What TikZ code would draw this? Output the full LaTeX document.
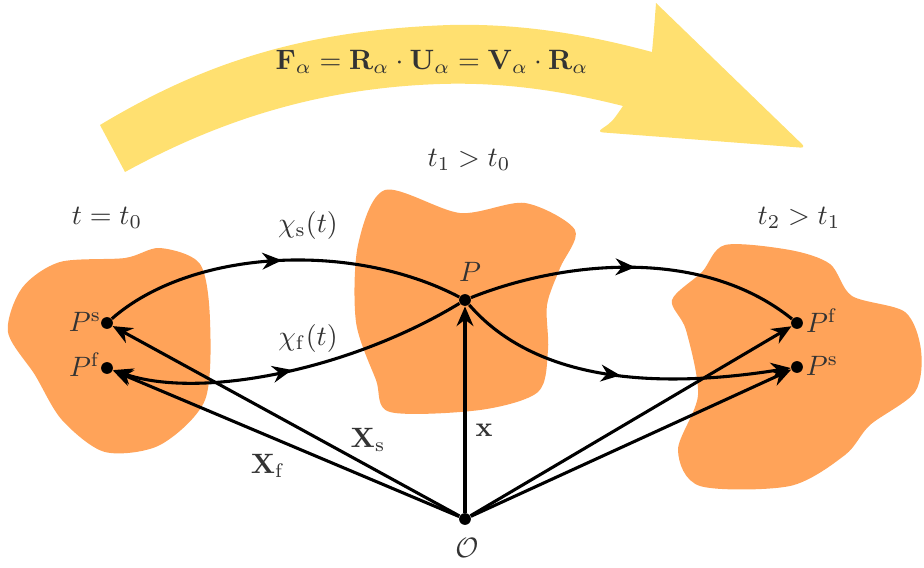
\documentclass[tikz,border=0pt]{standalone}
\usepackage{amsmath}
\usepackage{amssymb}
\usetikzlibrary{arrows.meta, decorations.markings}
\definecolor{myorange}{RGB}{255,163,89}
\definecolor{myyellow}{RGB}{255,224,112}
\definecolor{mytext}{RGB}{51,51,51}
\tikzset{
  dot/.style={circle,fill=black,inner sep=0pt,minimum size=4.2pt},
  connect/.style={line width=1.1pt},
  connect arrow/.style={connect,-{Stealth[length=7pt,width=6pt]}},
  mid arrow/.style={connect,postaction={decorate},
    decoration={markings,mark=at position 0.5 with {\arrow{Stealth[length=7pt,width=6pt]}}}},
  lbl/.style={text=mytext,inner sep=1pt}
}

\begin{document}
\begin{tikzpicture}[x=0.357pt, y=-0.357pt]
  \useasboundingbox (0,0) rectangle (924,567);

  % Deformation arrow
  \fill[myyellow] (100,125) .. controls (200,65) and (300,30) .. (450,25)
    .. controls (530,23) and (600,38) .. (652,52) .. controls (654,30) .. (656,3)
    [rounded corners=2pt] -- (806,148) -- (597,132)
    [sharp corners] .. controls (612,122) .. (623,106)
    .. controls (560,90) and (500,82) .. (440,84) .. controls (320,88) and (220,120) .. (125,172) -- cycle;
  \node[lbl] (F) at (432,62) {$\mathbf{F}_\alpha = \mathbf{R}_\alpha \cdot \mathbf{U}_\alpha = \mathbf{V}_\alpha \cdot \mathbf{R}_\alpha$};

  % Bodies
  \fill[myorange] plot[smooth cycle] coordinates {(60,262) (125,258) (160,248) (200,264) (210,320)
    (205,400) (160,445) (105,452) (62,420) (35,375) (8,332) (22,288)};
  \fill[myorange] plot[smooth cycle] coordinates {(385,190) (460,213) (525,203) (575,230) (560,268)
    (547,305) (548,350) (538,392) (480,410) (390,412) (376,380) (356,322) (358,245)};
  \fill[myorange] plot[smooth cycle] coordinates {(725,245) (790,250) (830,264) (852,296) (905,312)
    (921,350) (915,392) (870,425) (845,455) (790,486) (700,486) (678,450) (698,395) (686,330)
    (672,300) (702,272)};

  % Times
  \node[lbl] (t0) at (107,218) {$t = t_0$};
  \node[lbl] (t1) at (469,160) {$t_1 > t_0$};
  \node[lbl] (t2) at (799,218) {$t_2 > t_1$};

  % Points
  \node[dot] (Ps0) at (107,323) {};
  \node[dot] (Pf0) at (107,368) {};
  \node[dot] (P) at (465,300) {};
  \node[dot] (Pf2) at (797,323) {};
  \node[dot] (Ps2) at (797,367) {};
  \node[dot] (O) at (465,519) {};

  % Trajectories
  \draw[mid arrow] (Ps0) .. controls (190,250) and (350,240) .. (P);
  \draw[mid arrow, {Stealth[length=7pt,width=6pt]}-] (Pf0) .. controls (200,400) and (350,370) .. (P);
  \draw[mid arrow] (P) .. controls (560,262) and (700,245) .. (Pf2);
  \draw[mid arrow, -{Stealth[length=7pt,width=6pt]}] (P) .. controls (530,375) and (640,392) .. (Ps2);

  % Position vectors
  \draw[connect arrow] (O) -- (Ps0);
  \draw[connect arrow] (O) -- (Pf0);
  \draw[connect arrow] (O) -- (P);
  \draw[connect arrow] (O) -- (Pf2);
  \draw[connect arrow] (O) -- (Ps2);

  % Labels
  \node[lbl] (lPs0) at (85,322) {$P^{\mathrm{s}}$};
  \node[lbl] (lPf0) at (85,365) {$P^{\mathrm{f}}$};
  \node[lbl] (lP) at (470,272) {$P$};
  \node[lbl] (lPf2) at (822,321) {$P^{\mathrm{f}}$};
  \node[lbl] (lPs2) at (822,366) {$P^{\mathrm{s}}$};
  \node[lbl] (lO) at (467,548) {$\mathcal{O}$};
  \node[lbl] (chis) at (308,225) {$\chi_{\mathrm{s}}(t)$};
  \node[lbl] (chif) at (308,338) {$\chi_{\mathrm{f}}(t)$};
  \node[lbl] (Xs) at (368,440) {$\mathbf{X}_{\mathrm{s}}$};
  \node[lbl] (Xf) at (268,466) {$\mathbf{X}_{\mathrm{f}}$};
  \node[lbl] (x) at (484,430) {$\mathbf{x}$};
\end{tikzpicture}
\end{document}
